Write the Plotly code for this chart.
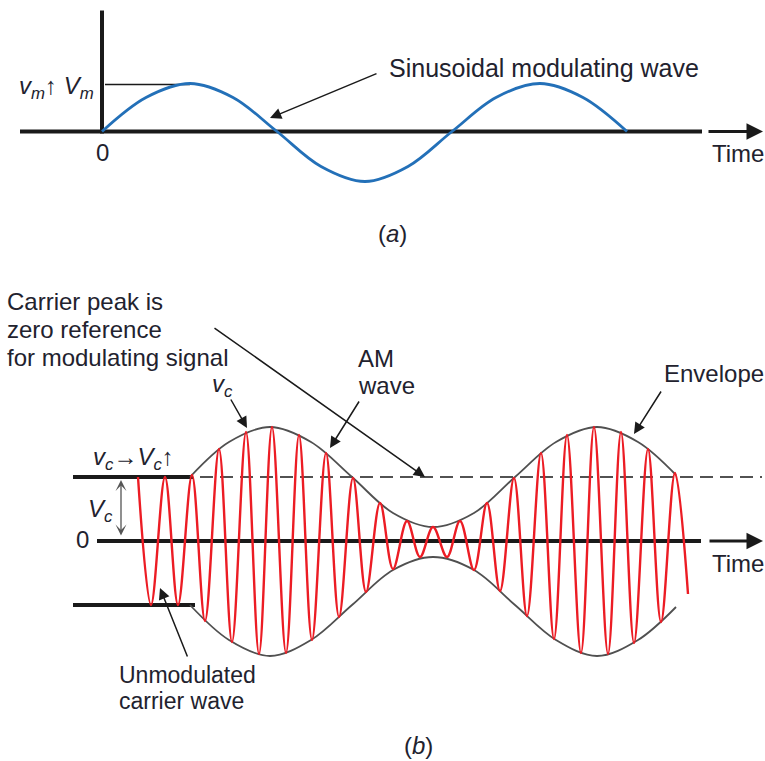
import plotly.graph_objects as go

# ---------------- data ----------------
# Panel (a): sinusoidal modulating wave (time in px-like units, amplitude units)
MOD_T = [102, 146, 190, 233, 277, 321, 365, 408, 452, 496, 540, 583, 627]
MOD_V = [0, 34, 48, 34, 0, -35, -50, -35, 0, 34, 48, 34, 0]
VM_LEVEL = 47

# Panel (b): AM wave - carrier extremes (time, signed value)
CARRIER_T = [138, 151, 165, 178, 192, 205, 219, 232, 246, 259, 272, 286, 299, 312,
             326, 339, 353, 366, 380, 393, 407, 420, 433, 447, 460, 474, 487, 500,
             514, 527, 541, 554, 567, 581, 594, 608, 621, 634, 648, 661, 675, 688]
CARRIER_V = [64, -64, 64, -64, 66, -80, 92, -101, 109, -113, 114, -112, 106, -99,
             88, -76, 63, -51, 38, -28, 20, -16, 14, -16, 20, -29, 38, -50,
             63, -75, 88, -98, 106, -112, 114, -113, 109, -102, 92, -81, 68, -53]
# envelope
ENV_T = [190, 229, 270, 311, 352, 393, 433, 474, 515, 556, 597, 638, 676]
ENV_UP = [64, 99, 114, 99, 64, 28, 14, 28, 64, 99, 114, 99, 66]
ENV_LO = [-64, -99, -115, -99, -64, -29, -16, -29, -64, -99, -115, -99, -66]
VC_LEVEL = 64

FONT = "Liberation Sans, Arial, sans-serif"
TXT = "#22222e"
BLACK = "#1a1a1a"
fs = 24

fig = go.Figure()

def seg(x, y, yaxis, width=4, color=BLACK, dash=None):
    fig.add_trace(go.Scatter(x=x, y=y, mode="lines", xaxis="x", yaxis=yaxis,
                             line=dict(color=color, width=width, dash=dash),
                             hoverinfo="skip", showlegend=False))

# ---------- panel (a) ----------
seg([102, 102], [121, -2], "y")
seg([20, 702], [0, 0], "y")
seg([105, 190], [VM_LEVEL, VM_LEVEL], "y", width=1.5)
fig.add_trace(go.Scatter(x=MOD_T, y=MOD_V, mode="lines", xaxis="x", yaxis="y",
                         line=dict(color="#2370b8", width=2.8, shape="spline", smoothing=1),
                         hoverinfo="skip", showlegend=False))

# ---------- panel (b) ----------
seg([73, 193], [VC_LEVEL, VC_LEVEL], "y2")
seg([200, 762], [VC_LEVEL, VC_LEVEL], "y2", width=1.5, dash="13px,7px")
seg([97, 701], [0, 0], "y2")
seg([73, 195], [-VC_LEVEL, -VC_LEVEL], "y2")
fig.add_trace(go.Scatter(x=ENV_T, y=ENV_UP, mode="lines", xaxis="x", yaxis="y2",
                         line=dict(color="#505050", width=1.8, shape="spline", smoothing=1),
                         hoverinfo="skip", showlegend=False))
fig.add_trace(go.Scatter(x=ENV_T, y=ENV_LO, mode="lines", xaxis="x", yaxis="y2",
                         line=dict(color="#505050", width=1.8, shape="spline", smoothing=1),
                         hoverinfo="skip", showlegend=False))
fig.add_trace(go.Scatter(x=CARRIER_T, y=CARRIER_V, mode="lines", xaxis="x", yaxis="y2",
                         line=dict(color="#ec1c24", width=2.4, shape="spline", smoothing=1),
                         hoverinfo="skip", showlegend=False))

ann = []

def text(x, y, s, yref, xanchor="left", size=fs):
    ann.append(dict(x=x, y=y, xref="x", yref=yref, text=s, showarrow=False,
                    xanchor=xanchor, yanchor="middle",
                    font=dict(family=FONT, size=size, color=TXT)))

def arrow(tx, ty, hx, hy, yref, width=1.5, head=2, size=1.5, side="end", color=BLACK):
    ann.append(dict(x=hx, y=hy, ax=tx, ay=ty, xref="x", yref=yref, axref="x", ayref=yref,
                    text="", showarrow=True, arrowhead=head, arrowsize=size,
                    arrowwidth=width, arrowcolor=color, standoff=0, startstandoff=0,
                    arrowside=side, startarrowhead=head, startarrowsize=size))

# panel (a) texts
text(96, 44.5, "<i>v<sub>m</sub></i>↑ <i>V<sub>m</sub></i>", "y", xanchor="right")
text(102, -20.5, "0", "y", xanchor="center")
text(710, -21.5, "Time", "y")
text(387, 63.5, "Sinusoidal modulating wave", "y", size=25)
text(392, -101.5, "(<i>a</i>)", "y", xanchor="center")
arrow(378, 58.5, 270, 13.5, "y")
arrow(707, 0, 763, 0, "y", width=3, head=2, size=1.1)

# panel (b) texts
text(5, 240, "Carrier peak is", "y2")
text(5, 212, "zero reference", "y2")
text(5, 184, "for modulating signal", "y2")
text(356, 183, "AM", "y2")
text(356, 156, "wave", "y2")
text(222, 156, "<i>v<sub>c</sub></i>", "y2", xanchor="center")
text(662, 168, "Envelope", "y2")
text(91, 83, "<i>v<sub>c</sub></i>→<i>V<sub>c</sub></i>↑", "y2")
text(100, 31, "<i>V<sub>c</sub></i>", "y2", xanchor="center")
text(82, 2, "0", "y2", xanchor="center")
text(710, -22, "Time", "y2")
text(117, -134, "Unmodulated", "y2", size=23)
text(117, -160, "carrier wave", "y2", size=23)
text(418, -204, "(<i>b</i>)", "y2", xanchor="center")

arrow(213, 214, 425, 64, "y2")
arrow(230, 143, 247, 113, "y2")
arrow(360, 141, 330, 93, "y2")
arrow(662, 151, 634, 107, "y2")
arrow(188, -117, 160, -47, "y2")
arrow(121, 4, 121, 61, "y2", width=1.3, side="end+start", head=3, size=1.4, color="#555555")
arrow(708, 0, 763, 0, "y2", width=3, head=2, size=1.1)

fig.update_layout(
    width=765, height=761,
    margin=dict(l=0, r=0, t=0, b=0),
    paper_bgcolor="white", plot_bgcolor="white",
    xaxis=dict(range=[0, 765], domain=[0, 1], visible=False, fixedrange=True),
    yaxis=dict(range=[-629.5, 131.5], domain=[0, 1], visible=False, anchor="x"),
    yaxis2=dict(range=[-220, 541], domain=[0, 1], visible=False, anchor="x",
                overlaying="y"),
    annotations=ann,
    showlegend=False,
)

fig.write_html("out.html")
